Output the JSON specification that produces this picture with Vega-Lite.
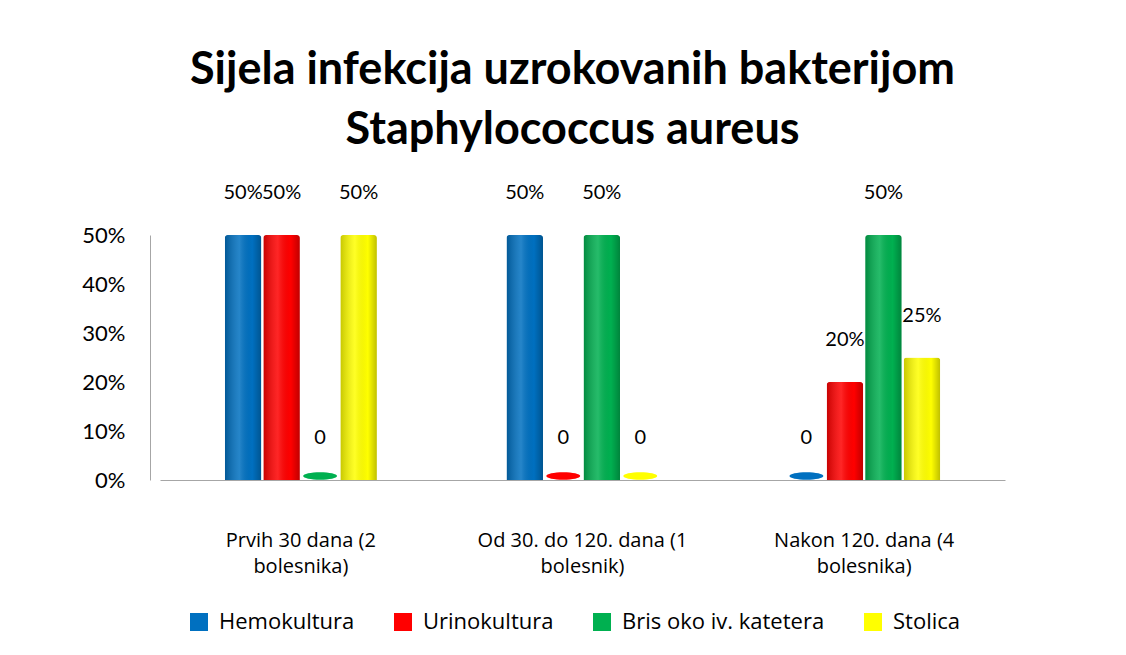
{
  "$schema": "https://vega.github.io/schema/vega-lite/v6.json",
  "autosize": {"type": "none"},
  "width": 845,
  "height": 245,
  "padding": {"left": 160, "top": 235, "right": 121, "bottom": 175},
  "background": "white",
  "title": {
    "text": ["Sijela infekcija uzrokovanih bakterijom", "Staphylococcus aureus"],
    "font": "Lato",
    "fontSize": 45,
    "fontWeight": "bold",
    "color": "black",
    "anchor": "middle",
    "lineHeight": 60,
    "offset": 30,
    "dx": -10
  },
  "config": {
    "view": {"stroke": null},
    "font": "Lato"
  },
  "data": {
    "values": [
      {"group": "Prvih 30 dana (2 bolesnika)", "series": "Hemokultura", "value": 0.5, "label": "50%"},
      {"group": "Prvih 30 dana (2 bolesnika)", "series": "Urinokultura", "value": 0.5, "label": "50%"},
      {"group": "Prvih 30 dana (2 bolesnika)", "series": "Bris oko iv. katetera", "value": 0, "label": "0"},
      {"group": "Prvih 30 dana (2 bolesnika)", "series": "Stolica", "value": 0.5, "label": "50%"},
      {"group": "Od 30. do 120. dana (1 bolesnik)", "series": "Hemokultura", "value": 0.5, "label": "50%"},
      {"group": "Od 30. do 120. dana (1 bolesnik)", "series": "Urinokultura", "value": 0, "label": "0"},
      {"group": "Od 30. do 120. dana (1 bolesnik)", "series": "Bris oko iv. katetera", "value": 0.5, "label": "50%"},
      {"group": "Od 30. do 120. dana (1 bolesnik)", "series": "Stolica", "value": 0, "label": "0"},
      {"group": "Nakon 120. dana (4 bolesnika)", "series": "Hemokultura", "value": 0, "label": "0"},
      {"group": "Nakon 120. dana (4 bolesnika)", "series": "Urinokultura", "value": 0.2, "label": "20%"},
      {"group": "Nakon 120. dana (4 bolesnika)", "series": "Bris oko iv. katetera", "value": 0.5, "label": "50%"},
      {"group": "Nakon 120. dana (4 bolesnika)", "series": "Stolica", "value": 0.25, "label": "25%"}
    ]
  },
  "encoding": {
    "x": {
      "field": "group",
      "type": "nominal",
      "sort": null,
      "scale": {"paddingInner": 0.46, "paddingOuter": 0.23},
      "axis": {
        "title": null,
        "labelAngle": 0,
        "ticks": false,
        "domainColor": "#A6A6A6",
        "labelFont": "Open Sans",
        "labelFontSize": 20,
        "labelColor": "black",
        "labelLineHeight": 26,
        "labelPadding": 50,
        "labelLimit": 400,
        "labelExpr": "[slice(datum.label, 0, lastindexof(datum.label, ' ')), slice(datum.label, lastindexof(datum.label, ' ') + 1)]"
      }
    },
    "xOffset": {
      "field": "series",
      "type": "nominal",
      "sort": ["Hemokultura", "Urinokultura", "Bris oko iv. katetera", "Stolica"],
      "scale": {"paddingInner": 0.05}
    },
    "y": {
      "field": "value",
      "type": "quantitative",
      "scale": {"domain": [0, 0.5]},
      "axis": {
        "title": null,
        "format": ".0%",
        "values": [0, 0.1, 0.2, 0.3, 0.4, 0.5],
        "grid": false,
        "ticks": false,
        "offset": 10,
        "domainColor": "#A6A6A6",
        "labelFontSize": 22,
        "labelColor": "black",
        "labelPadding": 25
      }
    },
    "color": {
      "field": "series",
      "type": "nominal",
      "sort": ["Hemokultura", "Urinokultura", "Bris oko iv. katetera", "Stolica"],
      "scale": {
        "domain": ["Hemokultura", "Urinokultura", "Bris oko iv. katetera", "Stolica"],
        "range": ["#0070C0", "#FF0000", "#00B050", "#FFFF00"]
      },
      "legend": {
        "title": null,
        "orient": "none",
        "legendX": 28,
        "legendY": 376,
        "direction": "horizontal",
        "symbolType": "square",
        "symbolSize": 324,
        "symbolStrokeWidth": 0,
        "labelFont": "Open Sans",
        "labelFontSize": 22,
        "labelColor": "black",
        "labelLimit": 400,
        "columnPadding": 37,
        "labelOffset": 9
      }
    }
  },
  "layer": [
    {
      "mark": {"type": "bar", "cornerRadiusTopLeft": 3, "cornerRadiusTopRight": 3}
    },
    {
      "mark": {
        "type": "bar",
        "cornerRadiusTopLeft": 3,
        "cornerRadiusTopRight": 3,
        "fill": {
          "x1": 0, "y1": 0, "x2": 1, "y2": 0,
          "gradient": "linear",
          "stops": [
            {"offset": 0, "color": "rgba(0,0,0,0.22)"},
            {"offset": 0.4, "color": "rgba(255,255,255,0.15)"},
            {"offset": 0.75, "color": "rgba(0,0,0,0.0)"},
            {"offset": 1, "color": "rgba(0,0,0,0.25)"}
          ]
        }
      },
      "encoding": {"color": {"value": null}}
    },
    {
      "transform": [{"filter": "datum.value == 0"}],
      "mark": {
        "type": "point",
        "filled": true,
        "opacity": 1,
        "shape": "M-1,0A1,0.22,0,1,0,1,0A1,0.22,0,1,0,-1,0Z",
        "size": 1150,
        "yOffset": -4
      }
    },
    {
      "mark": {"type": "text", "baseline": "middle", "dy": -42, "fontSize": 20, "color": "black"},
      "encoding": {"text": {"field": "label"}, "color": {"value": "black"}}
    }
  ]
}
